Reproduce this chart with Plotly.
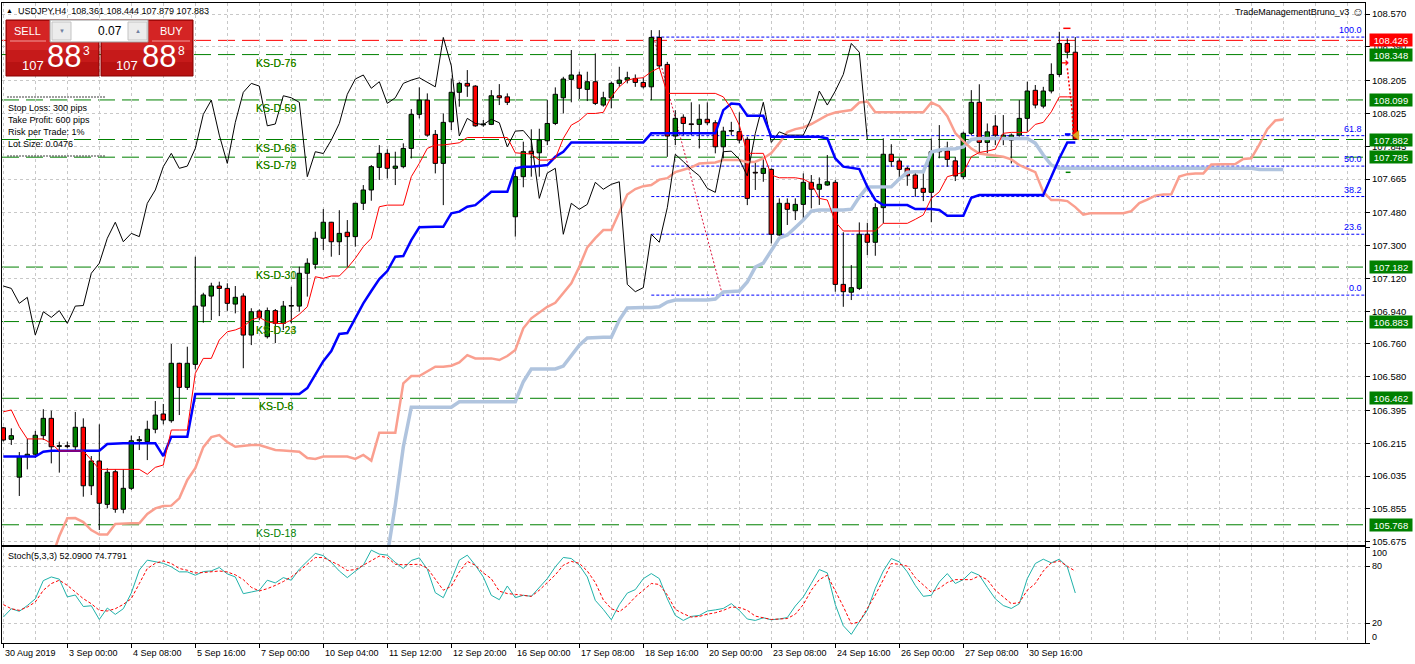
import plotly.graph_objects as go

# ---------------- data ----------------
opens = [106.300, 106.237, 106.029, 106.142, 106.155, 106.257, 106.352, 106.198, 106.202, 106.196,
         106.303, 105.982, 106.118, 105.880, 106.059, 105.853, 105.968, 106.229, 106.224, 106.292,
         106.376, 106.339, 106.654, 106.522, 106.648, 106.968, 107.023, 107.078, 107.065, 106.979,
         107.023, 106.809, 106.941, 106.800, 106.943, 106.873, 106.968, 106.968, 107.148, 107.197,
         107.340, 107.428, 107.321, 107.373, 107.349, 107.532, 107.605, 107.729, 107.806, 107.724,
         107.733, 107.833, 108.020, 108.098, 107.910, 107.751, 107.979, 108.141, 108.190, 108.175,
         107.962, 107.965, 108.122, 108.116, 107.458, 107.678, 107.818, 107.809, 107.875, 107.970,
         108.111, 108.212, 108.236, 108.157, 108.199, 108.071, 108.111, 108.190, 108.208, 108.217,
         108.195, 108.171, 108.442, 108.294, 107.901, 108.004, 107.968, 107.965, 107.993, 107.974,
         107.842, 107.928, 107.925, 107.883, 107.702, 107.696, 107.718, 107.358, 107.532, 107.491,
         107.526, 107.647, 107.609, 107.632, 107.647, 107.087, 107.044, 107.065, 107.362, 107.318,
         107.508, 107.801, 107.764, 107.724, 107.687, 107.614, 107.592, 107.815, 107.820, 107.765,
         107.678, 107.916, 108.086, 107.866, 107.956, 107.884, 107.879, 107.906, 107.998, 108.152,
         108.065, 108.148, 108.239, 108.409, 108.361]
highs = [106.305, 106.297, 106.167, 106.239, 106.283, 106.402, 106.394, 106.224, 106.224, 106.387,
         106.352, 106.145, 106.319, 106.078, 106.072, 106.072, 106.257, 106.255, 106.339, 106.447,
         106.431, 106.760, 106.657, 106.745, 107.239, 107.041, 107.096, 107.102, 107.093, 107.078,
         107.038, 106.956, 106.950, 106.960, 106.952, 106.996, 107.074, 107.184, 107.230, 107.376,
         107.500, 107.430, 107.494, 107.440, 107.532, 107.632, 107.742, 107.851, 107.828, 107.815,
         107.861, 108.049, 108.168, 108.135, 107.934, 108.025, 108.217, 108.199, 108.263, 108.180,
         107.989, 108.153, 108.186, 108.135, 107.724, 107.870, 107.938, 107.941, 108.098, 108.168,
         108.226, 108.373, 108.254, 108.254, 108.354, 108.144, 108.199, 108.281, 108.254, 108.239,
         108.221, 108.482, 108.482, 108.308, 108.043, 108.020, 108.086, 108.075, 108.086, 107.988,
         107.952, 107.979, 108.031, 107.897, 107.760, 107.778, 107.724, 107.559, 107.559, 107.559,
         107.696, 107.687, 107.674, 107.797, 107.660, 107.373, 107.193, 107.427, 107.425, 107.532,
         107.888, 107.856, 107.779, 107.733, 107.705, 107.696, 107.888, 107.961, 107.870, 107.787,
         107.925, 108.153, 108.185, 107.970, 108.016, 108.016, 107.915, 108.098, 108.199, 108.181,
         108.171, 108.300, 108.473, 108.437, 108.444]
lows = [106.225, 106.206, 105.926, 106.072, 106.134, 106.233, 106.105, 106.054, 106.188, 106.174,
        105.922, 105.931, 105.739, 105.858, 105.834, 105.831, 105.959, 106.178, 106.123, 106.270,
        106.319, 106.328, 106.370, 106.508, 106.621, 106.877, 106.891, 106.913, 106.942, 106.928,
        106.627, 106.754, 106.890, 106.790, 106.765, 106.837, 106.873, 106.937, 107.020, 107.170,
        107.276, 107.239, 107.248, 107.184, 107.294, 107.495, 107.546, 107.660, 107.669, 107.632,
        107.724, 107.778, 107.998, 107.897, 107.696, 107.522, 107.934, 108.062, 108.116, 107.952,
        107.952, 107.961, 108.071, 108.071, 107.349, 107.620, 107.678, 107.678, 107.851, 107.961,
        108.025, 108.086, 108.104, 108.093, 108.071, 108.062, 108.053, 108.171, 108.190, 108.171,
        108.162, 108.098, 108.272, 107.787, 107.851, 107.906, 107.906, 107.833, 107.961, 107.806,
        107.778, 107.906, 107.861, 107.522, 107.605, 107.650, 107.312, 107.355, 107.413, 107.440,
        107.431, 107.504, 107.523, 107.628, 107.047, 106.964, 107.001, 107.056, 107.248, 107.244,
        107.422, 107.732, 107.665, 107.628, 107.568, 107.544, 107.428, 107.779, 107.732, 107.654,
        107.665, 107.906, 107.806, 107.806, 107.851, 107.851, 107.751, 107.897, 107.925, 108.053,
        108.053, 108.135, 108.226, 108.327, 107.879]
closes = [106.233, 106.257, 106.142, 106.155, 106.259, 106.352, 106.196, 106.202, 106.197, 106.303,
          105.982, 106.118, 105.886, 106.056, 105.853, 105.968, 106.229, 106.235, 106.292, 106.370,
          106.343, 106.654, 106.522, 106.654, 106.968, 107.029, 107.078, 107.065, 106.983, 107.016,
          106.809, 106.937, 106.906, 106.943, 106.873, 106.968, 106.971, 107.148, 107.203, 107.340,
          107.428, 107.321, 107.367, 107.349, 107.532, 107.605, 107.733, 107.806, 107.724, 107.736,
          107.833, 108.020, 108.098, 107.906, 107.751, 107.976, 108.141, 108.190, 108.175, 107.957,
          107.967, 108.122, 108.111, 108.086, 107.678, 107.815, 107.805, 107.879, 107.970, 108.130,
          108.214, 108.236, 108.163, 108.199, 108.080, 108.111, 108.190, 108.208, 108.221, 108.195,
          108.171, 108.442, 108.286, 107.901, 107.998, 107.970, 107.964, 107.993, 107.974, 107.842,
          107.928, 107.931, 107.879, 107.559, 107.698, 107.724, 107.362, 107.532, 107.499, 107.526,
          107.647, 107.609, 107.636, 107.650, 107.087, 107.047, 107.069, 107.362, 107.318, 107.508,
          107.801, 107.761, 107.718, 107.683, 107.614, 107.592, 107.815, 107.818, 107.773, 107.682,
          107.916, 108.086, 107.866, 107.924, 107.906, 107.906, 107.906, 107.998, 108.148, 108.071,
          108.148, 108.239, 108.409, 108.361, 107.883]

tenkan = [106.388, 106.398, 106.306, 106.239, 106.239, 106.239, 106.215, 106.173, 106.173, 106.173,
          106.173, 106.124, 106.072, 106.072, 106.072, 106.072, 106.072, 106.072, 106.045, 106.083,
          106.096, 106.288, 106.288, 106.288, 106.599, 106.681, 106.681, 106.782, 106.827, 106.837,
          106.855, 106.892, 106.906, 106.882, 106.873, 106.872, 106.891, 106.923, 106.964, 107.129,
          107.120, 107.133, 107.133, 107.177, 107.230, 107.294, 107.340, 107.513, 107.522, 107.522,
          107.522, 107.678, 107.751, 107.833, 107.852, 107.852, 107.857, 107.864, 107.893, 107.893,
          107.893, 107.893, 107.893, 107.893, 107.809, 107.806, 107.802, 107.769, 107.769, 107.778,
          107.888, 107.961, 107.985, 108.025, 108.025, 108.031, 108.116, 108.171, 108.208, 108.217,
          108.221, 108.254, 108.276, 108.135, 108.135, 108.135, 108.135, 108.135, 108.135, 108.135,
          108.116, 108.052, 107.961, 107.806, 107.806, 107.806, 107.687, 107.672, 107.672, 107.672,
          107.665, 107.641, 107.559, 107.550, 107.431, 107.380, 107.380, 107.380, 107.380, 107.380,
          107.422, 107.422, 107.422, 107.422, 107.444, 107.468, 107.559, 107.595, 107.678, 107.692,
          107.702, 107.787, 107.811, 107.818, 107.829, 107.916, 107.921, 107.921, 107.921, 107.965,
          107.976, 108.034, 108.116, 108.116, 108.116]
kijun = [106.142, 106.142, 106.142, 106.142, 106.142, 106.169, 106.174, 106.174, 106.174, 106.174,
         106.174, 106.174, 106.174, 106.211, 106.215, 106.215, 106.215, 106.215, 106.215, 106.215,
         106.145, 106.251, 106.251, 106.251, 106.486, 106.486, 106.486, 106.486, 106.486, 106.486,
         106.486, 106.486, 106.486, 106.486, 106.486, 106.486, 106.486, 106.486, 106.518, 106.590,
         106.666, 106.721, 106.815, 106.820, 106.902, 106.983, 107.051, 107.116, 107.160, 107.239,
         107.243, 107.330, 107.400, 107.403, 107.403, 107.403, 107.477, 107.486, 107.513, 107.522,
         107.559, 107.595, 107.595, 107.595, 107.724, 107.733, 107.733, 107.737, 107.742, 107.787,
         107.815, 107.866, 107.866, 107.866, 107.866, 107.866, 107.866, 107.866, 107.866, 107.866,
         107.866, 107.916, 107.916, 107.916, 107.916, 107.916, 107.916, 107.916, 107.916, 107.916,
         108.043, 108.080, 108.076, 108.012, 108.012, 108.012, 107.897, 107.897, 107.897, 107.897,
         107.897, 107.897, 107.897, 107.888, 107.778, 107.733, 107.727, 107.720, 107.623, 107.550,
         107.522, 107.522, 107.522, 107.522, 107.500, 107.500, 107.500, 107.495, 107.464, 107.464,
         107.464, 107.562, 107.577, 107.577, 107.577, 107.577, 107.577, 107.577, 107.577, 107.577,
         107.577, 107.678, 107.778, 107.866, 107.866]

span_a_first_bar = 6
span_a = [105.580, 105.706, 105.804, 105.805, 105.783, 105.739, 105.714, 105.714, 105.772, 105.776,
          105.776, 105.776, 105.827, 105.858, 105.871, 105.873, 105.913, 106.014, 106.079, 106.194,
          106.249, 106.260, 106.222, 106.196, 106.203, 106.206, 106.206, 106.192, 106.178, 106.176,
          106.173, 106.169, 106.134, 106.129, 106.142, 106.142, 106.142, 106.142, 106.129, 106.151,
          106.120, 106.273, 106.273, 106.273, 106.544, 106.584, 106.584, 106.608, 106.635, 106.635,
          106.641, 106.659, 106.699, 106.681, 106.681, 106.681, 106.672, 106.694, 106.727, 106.846,
          106.901, 106.932, 106.964, 106.986, 107.038, 107.093, 107.184, 107.290, 107.341, 107.385,
          107.385, 107.484, 107.580, 107.610, 107.626, 107.632, 107.662, 107.670, 107.703, 107.716,
          107.729, 107.750, 107.751, 107.756, 107.769, 107.769, 107.769, 107.757, 107.760, 107.778,
          107.808, 107.862, 107.923, 107.939, 107.948, 107.967, 107.991, 108.016, 108.030, 108.035,
          108.044, 108.085, 108.090, 108.031, 108.031, 108.031, 108.031, 108.031, 108.031, 108.031,
          108.085, 108.065, 108.010, 107.917, 107.873, 107.832, 107.805, 107.798, 107.793, 107.787,
          107.773, 107.742, 107.722, 107.703, 107.594, 107.550, 107.550, 107.544, 107.511, 107.470,
          107.478, 107.477, 107.477, 107.477, 107.477, 107.489, 107.533, 107.552, 107.574, 107.580,
          107.581, 107.679, 107.692, 107.695, 107.696, 107.745, 107.747, 107.747, 107.747, 107.775,
          107.779, 107.854, 107.939, 107.986, 107.992]
span_b_first_bar = 48
span_b = [105.600, 105.877, 106.195, 106.413, 106.413, 106.413, 106.413, 106.413, 106.413, 106.443,
          106.443, 106.443, 106.443, 106.443, 106.443, 106.443, 106.443, 106.553, 106.623, 106.623,
          106.623, 106.623, 106.639, 106.699, 106.754, 106.793, 106.797, 106.797, 106.797, 106.891,
          106.957, 106.960, 106.960, 106.960, 106.964, 106.990, 107.001, 107.001, 107.001, 107.001,
          107.001, 107.007, 107.045, 107.048, 107.051, 107.100, 107.182, 107.204, 107.276, 107.341,
          107.358, 107.396, 107.440, 107.489, 107.495, 107.495, 107.495, 107.495, 107.500, 107.566,
          107.621, 107.623, 107.623, 107.623, 107.665, 107.702, 107.705, 107.705, 107.813, 107.824,
          107.830, 107.831, 107.841, 107.882, 107.888, 107.888, 107.888, 107.888, 107.888, 107.888,
          107.888, 107.862, 107.797, 107.742,
          107.724, 107.724, 107.724, 107.724, 107.724, 107.724, 107.724, 107.724, 107.724, 107.724,
          107.724, 107.724, 107.724, 107.724, 107.724, 107.724, 107.724, 107.724, 107.724, 107.724,
          107.724, 107.724, 107.724, 107.724, 107.724,
          107.718, 107.718, 107.718, 107.718]
chikou_shift = 26

stoch_main = [27, 35.7, 33, 39, 46, 65, 68.8, 66.5, 48, 50,
              38, 38.8, 24.5, 36.4, 29.8, 35.7, 52, 76, 86.3, 85,
              83, 79.3, 74.1, 74.1, 70.6, 74.4, 75.1, 78.6, 72, 68.8,
              51.4, 53.1, 54.9, 65.4, 62.6, 68.1, 65.4, 77, 85.6, 93.3,
              91, 84, 75, 68.1, 74.8, 81, 96.7, 92.6, 91.5, 84,
              77.6, 86, 88.7, 76.9, 52.4, 47.2, 65.4, 86.3, 91.5, 81.0,
              68.8, 49.7, 45.1, 59.4, 47.2, 49.7, 48.6, 58.4, 67.1, 79.3,
              89.1, 88.0, 81.0, 68.8, 44.4, 35, 24.2, 40, 52, 55.6,
              67, 72.3, 67.1, 46.2, 28.7, 23.5, 27.7, 28.7,
              33.3, 34.5, 36, 41, 34, 25, 23.5, 26.3, 24.2, 25,
              26.5, 38.5, 48, 62, 76.5, 73, 40, 18, 9, 22,
              34, 57, 75, 88, 84.5, 74.1, 60, 48.6, 49.7, 63.6,
              72.3, 62, 66, 74.1, 70.6, 58, 46, 39, 36, 40.9,
              67.1, 82.8, 87.3, 83.5, 87.3, 79.3, 52.09]
stoch_signal = [40, 35.7, 34, 37.4, 42.7, 54.9, 61.9, 65.4, 60.1, 53.1,
                46.2, 40.9, 34, 33.3, 35.7, 40.2, 46.2, 61.9, 77.6, 83,
                85.5, 82.8, 77.6, 75.8, 73, 73.4, 74.1, 75, 74, 71,
                66, 58, 54.2, 56.6, 60, 64, 69, 75, 82, 89,
                89, 85, 81, 75.5, 76.5, 81, 86, 90.5, 89, 82,
                81.5, 82, 82, 78, 67, 55, 59, 74, 85, 81,
                73, 67, 54, 51.5, 50.7, 49.5, 48.6, 55, 63, 71,
                81, 85, 83, 75, 63, 45, 35.7, 32.5, 39, 48,
                55, 62, 61, 50, 35, 30.5, 27, 27.7,
                30, 31.5, 34, 37.5, 37, 34, 28, 26, 24.5, 25,
                25.5, 30, 40, 55, 66, 70.6, 55, 38, 20, 22,
                36, 50, 66, 82.8, 82, 80, 68, 60, 53, 57,
                63, 66, 66, 66, 70, 66, 55, 47.9, 41, 42,
                55, 62, 75, 83.5, 85.4, 80, 74.78]

date_label_bars = [0, 8, 16, 24, 32, 40, 48, 56, 64, 72, 80, 88, 96, 104, 112, 120, 128]
date_labels = ["30 Aug 2019", "3 Sep 00:00", "4 Sep 08:00", "5 Sep 16:00", "7 Sep 00:00",
               "10 Sep 04:00", "11 Sep 12:00", "12 Sep 20:00", "16 Sep 00:00", "17 Sep 08:00",
               "18 Sep 16:00", "20 Sep 00:00", "23 Sep 08:00", "24 Sep 16:00", "26 Sep 00:00",
               "27 Sep 08:00", "30 Sep 16:00"]
price_ticks = [108.570, 108.390, 108.205, 108.025, 107.845, 107.665, 107.480, 107.300, 107.120,
               106.940, 106.760, 106.580, 106.395, 106.215, 106.035, 105.855, 105.675]
stoch_ticks = [0, 20, 80, 100]

ks_levels = [108.348, 108.099, 107.882, 107.785, 107.182, 106.883, 106.462, 105.768]
ks_text_a = ["KS-D-75", "KS-D-60", "KS-D-61", "KS-D-72", "KS-D-31", "KS-D-24", "KS-D-6", ""]
ks_text_b = ["KS-D-76", "KS-D-59", "KS-D-68", "KS-D-79", "KS-D-30", "KS-D-23", "KS-D-8", "KS-D-18"]
red_level = 108.426

fib_high, fib_low = 108.444, 107.028
fib_bar_high, fib_bar_low = 81.3, 89.9
fib_levels = [100.0, 61.8, 50.0, 38.2, 23.6, 0.0]

# trade management marks near the last bar: (bar0, bar1, price)
tm_red_stop = (132.5, 133.4, 108.492)
tm_blue_entry = (132.7, 133.4, 107.910)
tm_green_tp = (132.8, 133.4, 107.702)
tm_trail_bars = [133.0, 133.2, 133.45, 133.6, 133.75]
tm_trail_prices = [108.272, 108.20, 108.108, 108.04, 107.897]
tm_arrow = (132.7, 108.303)
tm_close_marker = (134.2, 107.905)

header_text = "USDJPY,H4  108.361 108.444 107.879 107.883"
ea_name = "TradeManagementBruno_v3"
info_lines = ["Stop Loss: 300 pips", "Take Profit: 600 pips", "Risk per Trade: 1%", "Lot Size: 0.0476"]
stoch_title = "Stoch(5,3,3) 52.0900 74.7791"
lot_value = "0.07"
sell_price = ("107", "88", "3")
buy_price = ("107", "88", "8")

# ---------------- geometry helpers ----------------
W, H = 1415, 664
ML, MR, MT, MB = 2, 50, 3, 21
PW = W - ML - MR
PH = H - MT - MB
FONT = "Liberation Sans, Arial, sans-serif"


def px(x):
    return (x - ML) / PW


def py(y):
    return (H - MB - y) / PH


X_RANGE = [-0.1625, 170.2125]
Y_RANGE = [105.657, 108.631]
MAIN_DOMAIN = [py(545), 1.0]
STOCH_DOMAIN = [0.0, py(547)]
GRID = "#c8c8c8"
GRID_DASH = "3px,3px"

n = len(closes)
fig = go.Figure()

# wicks (split so they don't cross the bodies)
wx, wy = [], []
for i in range(n):
    top = max(opens[i], closes[i])
    bot = min(opens[i], closes[i])
    wx += [i, i, None, i, i, None]
    wy += [highs[i], top, None, bot, lows[i], None]
fig.add_trace(go.Scatter(x=wx, y=wy, mode="lines", line=dict(color="black", width=1),
                         xaxis="x", yaxis="y", hoverinfo="skip"))

up = [i for i in range(n) if closes[i] >= opens[i]]
dn = [i for i in range(n) if closes[i] < opens[i]]
fig.add_trace(go.Bar(x=up, y=[closes[i] - opens[i] for i in up], base=[opens[i] for i in up],
                     width=0.55, marker=dict(color="#008000", line=dict(color="black", width=1)),
                     xaxis="x", yaxis="y", hoverinfo="skip"))
fig.add_trace(go.Bar(x=dn, y=[opens[i] - closes[i] for i in dn], base=[closes[i] for i in dn],
                     width=0.55, marker=dict(color="#ff0000", line=dict(color="black", width=1)),
                     xaxis="x", yaxis="y", hoverinfo="skip"))

# Ichimoku lines
fig.add_trace(go.Scatter(x=list(range(span_b_first_bar, span_b_first_bar + len(span_b))), y=span_b,
                         mode="lines", line=dict(color="#b0c4de", width=3.5), xaxis="x", yaxis="y"))
fig.add_trace(go.Scatter(x=list(range(span_a_first_bar, span_a_first_bar + len(span_a))), y=span_a,
                         mode="lines", line=dict(color="#fa9f8f", width=2.5), xaxis="x", yaxis="y"))
fig.add_trace(go.Scatter(x=[i - chikou_shift for i in range(chikou_shift, n)], y=closes[chikou_shift:],
                         mode="lines", line=dict(color="black", width=1), xaxis="x", yaxis="y"))
fig.add_trace(go.Scatter(x=list(range(n)), y=kijun, mode="lines",
                         line=dict(color="#0000ff", width=2.5), xaxis="x", yaxis="y"))
fig.add_trace(go.Scatter(x=list(range(n)), y=tenkan, mode="lines",
                         line=dict(color="#ff0000", width=1), xaxis="x", yaxis="y"))

# trade management marks
fig.add_trace(go.Scatter(x=tm_trail_bars, y=tm_trail_prices, mode="lines",
                         line=dict(color="#ff0000", width=1.5, dash="2px,2px"), xaxis="x", yaxis="y"))
fig.add_trace(go.Scatter(x=[tm_close_marker[0]], y=[tm_close_marker[1]], mode="markers",
                         marker=dict(symbol="triangle-left", size=9, color="#daa520"), xaxis="x", yaxis="y"))

# stochastic
fig.add_trace(go.Scatter(x=list(range(len(stoch_main))), y=stoch_main, mode="lines",
                         line=dict(color="#20b2aa", width=1), xaxis="x2", yaxis="y2"))
fig.add_trace(go.Scatter(x=list(range(len(stoch_signal))), y=stoch_signal, mode="lines",
                         line=dict(color="#ff0000", width=1, dash="3px,2px"), xaxis="x2", yaxis="y2"))

# ---------------- shapes ----------------
shapes = []


def hline(level, color, dash, width=1, x0=0, x1=1, xref="paper", layer="between"):
    shapes.append(dict(type="line", xref=xref, yref="y", x0=x0, x1=x1, y0=level, y1=level,
                       line=dict(color=color, width=width, dash=dash), layer=layer))


for lv in ks_levels:
    hline(lv, "#008000", "17px,7px")
hline(red_level, "#ff0000", "17px,7px")
for f in fib_levels:
    price = fib_low + (fib_high - fib_low) * f / 100.0
    hline(price, "#0000ff", "3px,2px", x0=fib_bar_high - 0.3, x1=X_RANGE[1], xref="x")
shapes.append(dict(type="line", xref="x", yref="y", x0=fib_bar_high, y0=fib_high,
                   x1=fib_bar_low, y1=fib_low, line=dict(color="#dc143c", width=1, dash="2px,2px"),
                   layer="between"))
for (b0, b1, p), col, wdt in [(tm_red_stop, "#ff0000", 1.5), (tm_blue_entry, "#0000ff", 2.5),
                              (tm_green_tp, "#008000", 1.5)]:
    shapes.append(dict(type="line", xref="x", yref="y", x0=b0, x1=b1, y0=p, y1=p,
                       line=dict(color=col, width=wdt), layer="above"))


def prect(x0, y0, x1, y1, fill, line=None, lw=0):
    shapes.append(dict(type="rect", xref="paper", yref="paper", x0=px(x0), x1=px(x1),
                       y0=py(y1), y1=py(y0), fillcolor=fill,
                       line=dict(color=line or fill, width=lw), layer="above"))


def pline(x0, y0, x1, y1, color, width=1, dash="solid"):
    shapes.append(dict(type="line", xref="paper", yref="paper", x0=px(x0), x1=px(x1),
                       y0=py(y0), y1=py(y1), line=dict(color=color, width=width, dash=dash),
                       layer="above"))


# SELL / BUY panel
for (xa, xb) in [(6, 99), (101, 193)]:
    prect(xa, 20, xb, 76, "#b81212", "#8a0000", 1)
    prect(xa + 1, 21, xb - 1, 50, "#d42424")
    prect(xa + 1, 50, xb - 1, 62, "#c61a1a")
prect(50, 20, 148, 42, "#ffffff", "#9a9a9a", 1)
prect(52, 22, 71, 40, "#ececec", "#c4c4c4", 1)
prect(128, 22, 147, 40, "#ececec", "#c4c4c4", 1)
pline(10, 41, 46, 41, "#f29a9a")
pline(152, 41, 190, 41, "#f29a9a")
# info block separators
pline(7, 97, 106, 97, "#404040", 1, "2px,1px")
pline(7, 156, 106, 156, "#404040", 1, "2px,1px")

# ---------------- annotations ----------------
ann = []


def txt(x, y, s, size=9, color="black", xanchor="left", yanchor="middle", xref="paper",
        yref="paper", **kw):
    ann.append(dict(x=x, y=y, xref=xref, yref=yref, text=s, showarrow=False, xanchor=xanchor,
                    yanchor=yanchor, font=dict(size=size, color=color, family=FONT), **kw))


txt(px(9.5), py(11), "▲", size=7, xanchor="center")
txt(px(16), py(11), header_text, size=9)
txt(px(1351), py(12), ea_name, size=9, xanchor="right")
txt(px(1358), py(12), "☺", size=12, xanchor="center", color="#202020")

txt(px(27.5), py(31), "SELL", size=11, color="white", xanchor="center")
txt(px(171), py(31), "BUY", size=11, color="white", xanchor="center")
txt(px(61.5), py(31), "▼", size=6, color="#7080a0", xanchor="center")
txt(px(137.5), py(31), "▲", size=6, color="#7080a0", xanchor="center")
txt(px(124), py(31), lot_value, size=12, xanchor="right")
for (big, small, sup), (xs, xb, xsup) in [(sell_price, (33, 63.5, 86)), (buy_price, (127, 158.5, 181))]:
    txt(px(xs), py(65), big, size=13, color="white", xanchor="center")
    txt(px(xb), py(57), small, size=31, color="white", xanchor="center")
    txt(px(xsup), py(51), sup, size=12, color="white", xanchor="center")

for k, line in enumerate(info_lines):
    txt(px(6), py(108 + 12 * k), line, size=9)

txt(px(6), py(556), stoch_title, size=9)
for v, ypix in zip([100, 80, 20, 0], [553, 566, 623, 637]):
    txt(px(1370), py(ypix), str(v), size=9)

for b, lab in zip(date_label_bars, date_labels):
    ann.append(dict(x=b, y=py(653), xref="x2", yref="paper", text=lab, showarrow=False,
                    xanchor="left", yanchor="middle", font=dict(size=9, color="black", family=FONT)))

# KS level labels (two overlapping texts)
for lv, ta, tb in zip(ks_levels, ks_text_a, ks_text_b):
    if ta:
        txt(px(276), lv, ta, size=10.5, color="#a8a800", xanchor="center", yanchor="top", yref="y")
    txt(px(276), lv, tb, size=10.5, color="#008000", xanchor="center", yanchor="top", yref="y")

# Fibonacci level labels
for f in fib_levels:
    price = fib_low + (fib_high - fib_low) * f / 100.0
    txt(px(1364), price, f"{f:.1f}", size=9, color="#0000ff", xanchor="right", yanchor="bottom",
        yref="y")

# price boxes on the axis
for lv in ks_levels:
    ann.append(dict(x=px(1369), y=lv, xref="paper", yref="y", text=f"{lv:.3f}", showarrow=False,
                    xanchor="left", yanchor="middle", width=42, height=12, bgcolor="#008000",
                    borderpad=0, align="center", font=dict(size=9.5, color="white", family=FONT)))
ann.append(dict(x=px(1369), y=red_level, xref="paper", yref="y", text=f"{red_level:.3f}",
                showarrow=False, xanchor="left", yanchor="middle", width=42, height=12,
                bgcolor="#ff0000", borderpad=0, align="center",
                font=dict(size=9.5, color="white", family=FONT)))

# trade arrow
ann.append(dict(x=tm_arrow[0], y=tm_arrow[1], xref="x", yref="y", text="➜", showarrow=False,
                xanchor="center", yanchor="middle", font=dict(size=10, color="#ff0000")))

fig.update_layout(
    width=W, height=H,
    margin=dict(l=ML, r=MR, t=MT, b=MB, pad=0),
    paper_bgcolor="white", plot_bgcolor="white",
    showlegend=False, barmode="overlay", hovermode=False,
    font=dict(family=FONT, size=9, color="black"),
    xaxis=dict(domain=[0, 1], anchor="y", range=X_RANGE, showticklabels=False, ticks="",
               tickmode="linear", tick0=0, dtick=4, showgrid=True, gridcolor=GRID,
               griddash=GRID_DASH, gridwidth=1, zeroline=False, showline=True,
               linecolor="black", linewidth=1, mirror=True),
    yaxis=dict(domain=MAIN_DOMAIN, anchor="x", range=Y_RANGE, side="right", tickmode="array",
               tickvals=price_ticks, ticktext=[f"{v:.3f}" for v in price_ticks],
               ticks="outside", ticklen=4, tickcolor="black", showgrid=True, gridcolor=GRID,
               griddash=GRID_DASH, zeroline=False, showline=True, linecolor="black",
               linewidth=1, mirror=True, tickfont=dict(size=9.5, color="black", family=FONT)),
    xaxis2=dict(domain=[0, 1], anchor="y2", range=X_RANGE, tickmode="array",
                tickvals=date_label_bars, showticklabels=False, ticks="outside", ticklen=4,
                tickcolor="black", showgrid=True, gridcolor=GRID, griddash=GRID_DASH,
                minor=dict(tickmode="linear", tick0=0, dtick=4, showgrid=True, gridcolor=GRID,
                           griddash=GRID_DASH, ticks=""),
                zeroline=False, showline=True, linecolor="black", linewidth=1, mirror=True),
    yaxis2=dict(domain=STOCH_DOMAIN, anchor="x2", range=[0, 100], side="right",
                tickmode="array", tickvals=stoch_ticks, showticklabels=False, ticks="outside",
                ticklen=4, tickcolor="black", showgrid=True, gridcolor=GRID, griddash=GRID_DASH,
                zeroline=False, showline=True, linecolor="black", linewidth=1, mirror=True),
    shapes=shapes,
    annotations=ann,
)

fig.write_html("out.html", config={"displayModeBar": False},
               post_script="document.body.style.margin='0px';document.body.style.overflow='hidden';")
